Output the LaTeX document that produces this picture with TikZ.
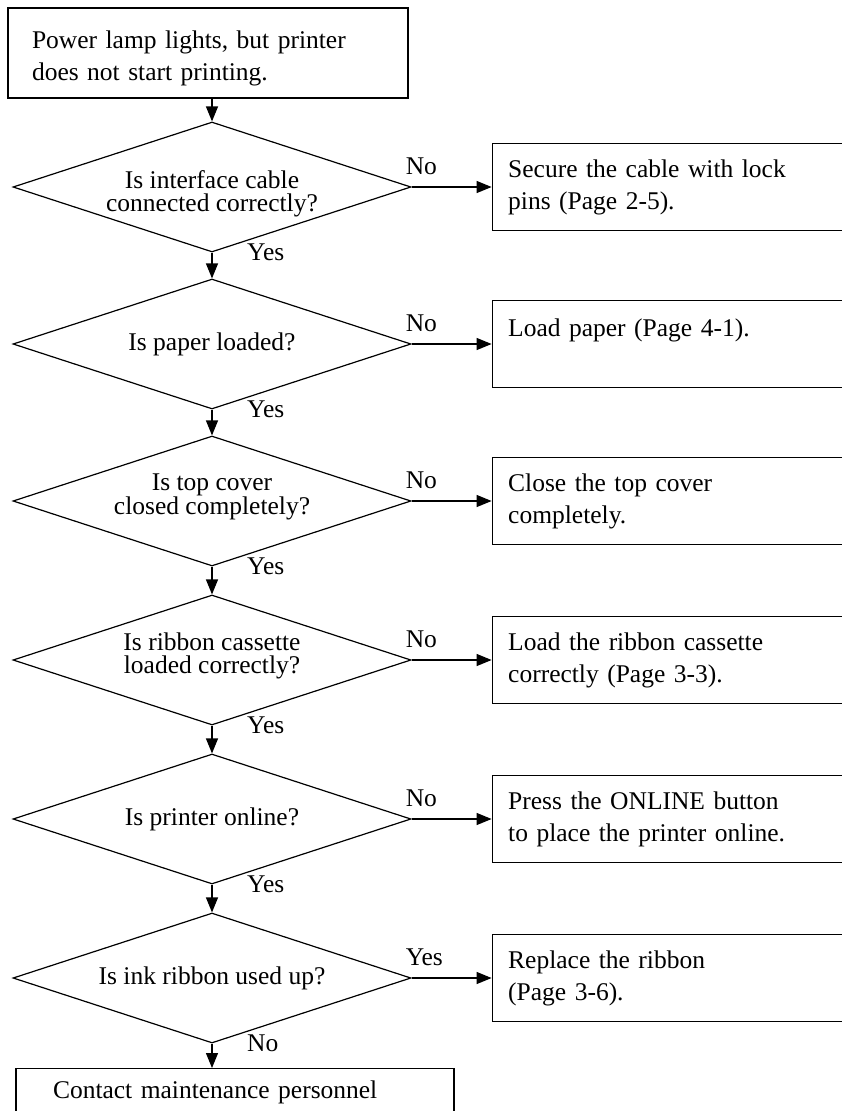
\documentclass[tikz,border=0pt]{standalone}
\usepackage{fontspec}
\setmainfont{Liberation Serif}
\usetikzlibrary{positioning}
\usetikzlibrary{shapes.geometric}
\usetikzlibrary{arrows.meta}

\begin{document}
\begin{tikzpicture}[
        x=1pt, y=-1pt,
        every node/.style={font=\fontsize{25.5}{32}\selectfont},
        arrow/.style={-{Triangle[length=15pt, width=12pt]}, line width=1.2pt, draw=black},
        question/.style={diamond, aspect=3.06, draw=black, line width=1.2pt, inner sep=0pt, minimum width=398pt, minimum height=130pt, align=center, font=\fontsize{25.5}{23.5}\selectfont},
        action/.style={rectangle, draw=black, line width=1.2pt, minimum height=87pt, text width=348pt, inner xsep=16pt, align=left},
        answer/.style={inner sep=0pt}
    ]

        \useasboundingbox (0,0) rectangle (842,1111);
        \clip (0,0) rectangle (842,1111);
        \fill[white] (0,0) rectangle (842,1111);

        % -------------------------------------------------
        % Start
        % -------------------------------------------------
        \node[rectangle, draw=black, line width=1.2pt, minimum width=400pt, minimum height=90pt, text width=352pt, inner xsep=24pt, align=left] (start) at (208,53) {\rule{0pt}{28pt}Power lamp lights, but printer\\does not start printing.};

        % -------------------------------------------------
        % Questions
        % -------------------------------------------------
        \node[question] (d1) at (212,187) {\rule{0pt}{31pt}Is interface cable\\connected correctly?};
        \node[question] (d2) at (212,344) {Is paper loaded?};
        \node[question] (d3) at (212,501) {Is top cover\\closed completely?\rule[-14pt]{0pt}{0pt}};
        \node[question] (d4) at (212,660) {Is ribbon cassette\\loaded correctly?\rule[-14pt]{0pt}{0pt}};
        \node[question] (d5) at (212,819) {Is printer online?};
        \node[question] (d6) at (212,978) {Is ink ribbon used up?};

        % -------------------------------------------------
        % Actions
        % -------------------------------------------------
        \node[action, right=80pt of d1] (b1) {Secure the cable with lock\\pins (Page 2-5).};
        \node[action, right=80pt of d2] (b2) {Load paper (Page 4-1).\\\mbox{}};
        \node[action, right=80pt of d3] (b3) {Close the top cover\\completely.};
        \node[action, right=80pt of d4] (b4) {Load the ribbon cassette\\correctly (Page 3-3).};
        \node[action, right=80pt of d5] (b5) {Press the ONLINE button\\to place the printer online.};
        \node[action, right=80pt of d6] (b6) {Replace the ribbon\\(Page 3-6).};

        % End
        \node[rectangle, draw=black, line width=1.2pt, anchor=north, minimum width=438pt, text width=364pt, inner xsep=37pt, inner ysep=12pt, align=left] (contact) at (235,1068) {Contact maintenance personnel};

        % -------------------------------------------------
        % Answers
        % -------------------------------------------------
        \node[answer, right=35pt of d1.south] (y1) {Yes};
        \node[answer, right=35pt of d2.south] (y2) {Yes};
        \node[answer, right=35pt of d3.south] (y3) {Yes};
        \node[answer, right=35pt of d4.south] (y4) {Yes};
        \node[answer, right=35pt of d5.south] (y5) {Yes};
        \node[answer, right=35pt of d6.south] (n6) {No};

        \node[answer, above right=12pt and -6pt of d1.east] (n1) {No};
        \node[answer, above right=12pt and -6pt of d2.east] (n2) {No};
        \node[answer, above right=12pt and -6pt of d3.east] (n3) {No};
        \node[answer, above right=12pt and -6pt of d4.east] (n4) {No};
        \node[answer, above right=12pt and -6pt of d5.east] (n5) {No};
        \node[answer, above right=12pt and -6pt of d6.east] (y6) {Yes};

        % -------------------------------------------------
        % Arrows
        % -------------------------------------------------
        \draw[arrow] (start.south -| d1.north) -- (d1.north);
        \foreach \a/\b in {d1/d2, d2/d3, d3/d4, d4/d5, d5/d6} {
            \draw[arrow] (\a.south) -- (\b.north);
        }
        \draw[arrow] (d6.south) -- (d6.south |- contact.north);

        \foreach \a/\b in {d1/b1, d2/b2, d3/b3, d4/b4, d5/b5, d6/b6} {
            \draw[arrow] (\a.east) -- (\b.west);
        }

    \end{tikzpicture}
\end{document}
